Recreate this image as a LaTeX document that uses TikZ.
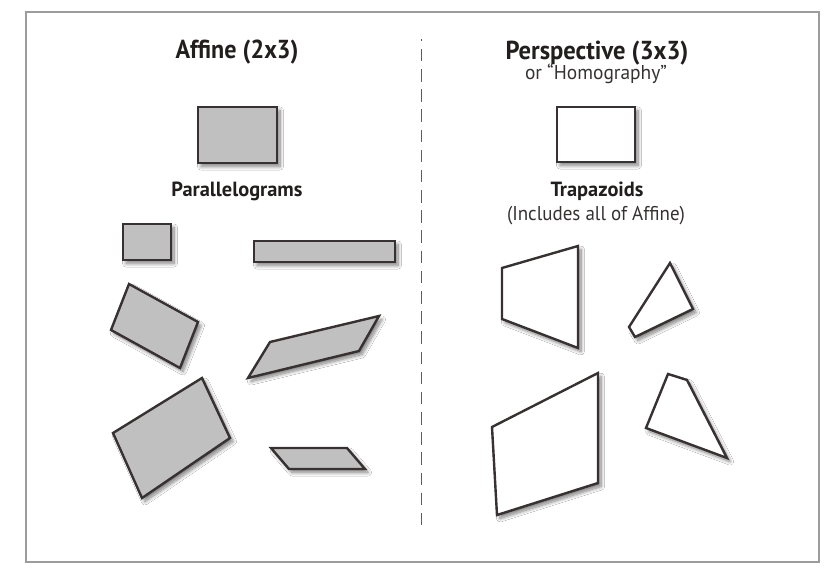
\documentclass[tikz,border=0pt]{standalone}
\usepackage{fontspec}
\setmainfont{PT Sans}
\usetikzlibrary{shadows.blur}
\definecolor{edgecol}{HTML}{383131}
\definecolor{shapegray}{HTML}{C0C0C0}
\definecolor{framegray}{HTML}{9C9C9C}
\definecolor{txtcol}{HTML}{231E1E}
\definecolor{subcol}{HTML}{363232}
\newcommand{\fitw}[3]{\resizebox{#1}{\height}{\fontsize{#2}{#2}\selectfont #3}}
\tikzset{
  softshadow/.style={blur shadow={shadow xshift=3pt, shadow yshift=-3.5pt, shadow blur radius=3.5pt, shadow blur steps=10, shadow opacity=50}},
  gshape/.style={draw=edgecol, line width=2.4pt, fill=shapegray, line join=miter, softshadow},
  wshape/.style={draw=edgecol, line width=2.4pt, fill=white, line join=miter, softshadow},
  label/.style={inner sep=0pt, anchor=base, text=txtcol},
  dashline/.style={draw=edgecol!80, line width=1.5pt, dash pattern=on 12.5pt off 7.67pt, dash phase=10.2pt}
}
\begin{document}
\begin{tikzpicture}[x=1pt,y=-1pt]
\useasboundingbox (0,0) rectangle (829,569);
\fill[white] (0,0) rectangle (829,569);
\draw[framegray, line width=2pt] (26,12) rectangle (819,562);
\coordinate (dtop) at (421.7,39);
\coordinate (dbot) at (421.7,525.5);
\draw[dashline] (dtop) -- (dbot);

% titles
\node[label] (affine) at (237,59) {\fitw{123pt}{26}{\bfseries Affine (2x3)}};
\node[label] (persp) at (597,60) {\fitw{183pt}{26}{\bfseries Perspective (3x3)}};
\node[label, text=subcol] (homog) at (596,80) {\fitw{142pt}{20}{or “Homography”}};
\node[label] (para) at (237,197) {\fitw{131pt}{20.5}{\bfseries Parallelograms}};
\node[label] (trap) at (597,197) {\fitw{93pt}{20.5}{\bfseries Trapazoids}};
\node[label, text=subcol] (incl) at (596,220) {\fitw{178pt}{20}{(Includes all of Affine)}};

% affine shapes
\draw[gshape] (198,107) rectangle (277,163);
\draw[gshape] (123,224) rectangle (171,260);
\draw[gshape] (254,241) rectangle (395,262);
\draw[gshape] (129,284) -- (198,322) -- (180,368) -- (111,330) -- cycle;
\draw[gshape] (270,342) -- (379,316) -- (359,351) -- (248,378) -- cycle;
\draw[gshape] (202,378) -- (230,438) -- (142,498) -- (113,433) -- cycle;
\draw[gshape] (271,448) -- (347,448) -- (365,469) -- (289,469) -- cycle;

% perspective shapes
\draw[wshape] (557,107) rectangle (635,162);
\draw[wshape] (502,268) -- (578,246) -- (578,348) -- (502,319) -- cycle;
\draw[wshape] (670,263) -- (693,309) -- (635,337) -- (629,327) -- cycle;
\draw[wshape] (492,427) -- (598,373) -- (598,483) -- (497,515) -- cycle;
\draw[wshape] (668,374) -- (687,380) -- (727,458) -- (646,428) -- cycle;
\end{tikzpicture}
\end{document}
